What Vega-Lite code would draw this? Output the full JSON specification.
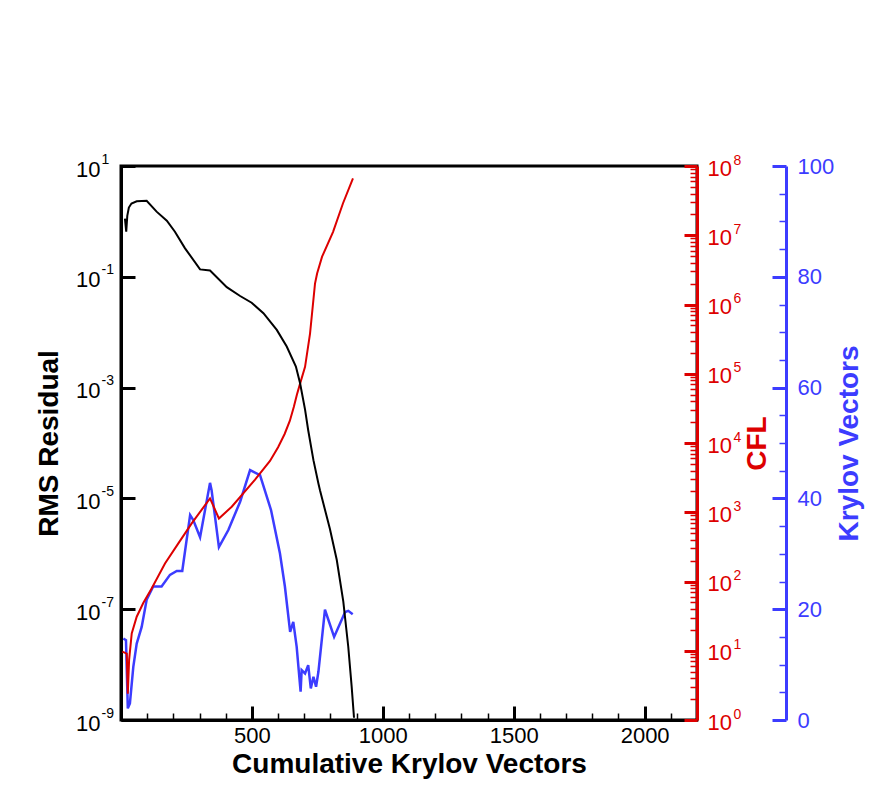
{
  "$schema": "https://vega.github.io/schema/vega-lite/v6.json",
  "width": 576,
  "height": 554,
  "autosize": {"type": "none"},
  "padding": {"left": 121, "top": 166, "right": 189, "bottom": 85},
  "background": "white",
  "config": {
    "view": {"stroke": "#000", "strokeWidth": 3},
    "axis": {
      "grid": false,
      "labelFont": "Liberation Sans",
      "titleFont": "Liberation Sans",
      "labelFontSize": 22,
      "titleFontSize": 28,
      "titleFontWeight": "bold",
      "labelColor": "#000",
      "titleColor": "#000",
      "domainColor": "#000",
      "domainWidth": 3,
      "labelOverlap": false,
      "labelFlush": false,
      "labelBound": false
    }
  },
  "datasets": {
    "rms": [
      {"x": 15, "v": 1.12}, {"x": 20, "v": 0.65}, {"x": 24, "v": 1.26}, {"x": 30, "v": 1.78},
      {"x": 40, "v": 2.1}, {"x": 60, "v": 2.3}, {"x": 98, "v": 2.35}, {"x": 136, "v": 1.5},
      {"x": 175, "v": 1.03}, {"x": 206, "v": 0.65}, {"x": 244, "v": 0.33}, {"x": 302, "v": 0.136},
      {"x": 340, "v": 0.13}, {"x": 404, "v": 0.065}, {"x": 455, "v": 0.045}, {"x": 499, "v": 0.034},
      {"x": 544, "v": 0.022}, {"x": 595, "v": 0.011}, {"x": 633, "v": 0.0055}, {"x": 668, "v": 0.0024},
      {"x": 684, "v": 0.0012}, {"x": 703, "v": 0.0004}, {"x": 715, "v": 0.00017}, {"x": 735, "v": 4.9e-5},
      {"x": 754, "v": 1.86e-5}, {"x": 760, "v": 1.4e-5}, {"x": 798, "v": 2.8e-6}, {"x": 824, "v": 7.8e-7},
      {"x": 849, "v": 1.38e-7}, {"x": 868, "v": 2.1e-8}, {"x": 881, "v": 4.0e-9}, {"x": 890, "v": 1.1e-9}
    ],
    "cfl": [
      {"x": 5, "v": 9.7}, {"x": 22, "v": 9.1}, {"x": 26, "v": 2.4}, {"x": 31, "v": 7.4},
      {"x": 41, "v": 17.8}, {"x": 60, "v": 31}, {"x": 85, "v": 49}, {"x": 117, "v": 79},
      {"x": 168, "v": 182}, {"x": 219, "v": 355}, {"x": 270, "v": 692}, {"x": 340, "v": 1585},
      {"x": 374, "v": 813}, {"x": 423, "v": 1202}, {"x": 512, "v": 2950}, {"x": 569, "v": 5500},
      {"x": 600, "v": 8700}, {"x": 625, "v": 13500}, {"x": 645, "v": 21000}, {"x": 660, "v": 33000},
      {"x": 672, "v": 50000}, {"x": 684, "v": 72000}, {"x": 703, "v": 126000}, {"x": 722, "v": 380000},
      {"x": 741, "v": 2000000}, {"x": 749, "v": 2800000}, {"x": 768, "v": 4900000}, {"x": 810, "v": 11200000},
      {"x": 848, "v": 29000000}, {"x": 886, "v": 66000000}
    ],
    "kry": [
      {"x": 9, "v": 14.7}, {"x": 19, "v": 14.4}, {"x": 26, "v": 2.1}, {"x": 34, "v": 3.0},
      {"x": 47, "v": 9.6}, {"x": 60, "v": 13.8}, {"x": 79, "v": 16.8}, {"x": 98, "v": 21.7},
      {"x": 123, "v": 24.1}, {"x": 155, "v": 24.1}, {"x": 187, "v": 26.2}, {"x": 213, "v": 26.9},
      {"x": 234, "v": 26.9}, {"x": 264, "v": 37.0}, {"x": 276, "v": 36.1}, {"x": 302, "v": 33.0},
      {"x": 340, "v": 42.8}, {"x": 346, "v": 41.5}, {"x": 374, "v": 31.2}, {"x": 410, "v": 34.3},
      {"x": 455, "v": 39.4}, {"x": 493, "v": 45.1}, {"x": 531, "v": 44.2}, {"x": 573, "v": 37.9},
      {"x": 607, "v": 30.1}, {"x": 626, "v": 24.1}, {"x": 646, "v": 15.9}, {"x": 658, "v": 17.7},
      {"x": 671, "v": 13.2}, {"x": 686, "v": 5.1}, {"x": 690, "v": 9.0}, {"x": 703, "v": 8.4},
      {"x": 715, "v": 9.9}, {"x": 725, "v": 5.7}, {"x": 735, "v": 7.8}, {"x": 745, "v": 6.0},
      {"x": 754, "v": 8.7}, {"x": 779, "v": 19.9}, {"x": 814, "v": 15.0}, {"x": 856, "v": 19.5},
      {"x": 868, "v": 19.7}, {"x": 885, "v": 19.1}
    ]
  },
  "layer": [
    {
      "data": {"name": "kry"},
      "mark": {"type": "line", "color": "#3c3cff", "strokeWidth": 2.5},
      "encoding": {
        "x": {"field": "x", "type": "quantitative", "scale": {"domain": [0, 2200], "nice": false, "zero": false}, "axis": null},
        "y": {"field": "v", "type": "quantitative", "scale": {"domain": [0, 100], "nice": false},
          "axis": {"orient": "right", "offset": 89, "values": [0, 20, 40, 60, 80, 100], "ticks": false,
            "labelPadding": 11, "labelAlign": "left", "labelBaseline": "middle", "labelColor": "#3c3cff",
            "domainColor": "#3c3cff", "title": "Krylov Vectors", "titleColor": "#3c3cff",
            "titleAngle": 270, "titleBaseline": "top", "titlePadding": 2}}
      }
    },
    {
      "data": {"name": "kry"},
      "mark": {"type": "line", "opacity": 0},
      "encoding": {
        "x": {"field": "x", "type": "quantitative", "scale": {"domain": [0, 2200], "nice": false, "zero": false},
          "axis": {"orient": "bottom", "values": [500, 1000, 1500, 2000], "labels": false, "domain": false,
            "tickSize": -14, "tickWidth": 3, "tickColor": "black", "tickOpacity": 1, "zindex": 2, "title": null}},
        "y": {"field": "v", "type": "quantitative", "scale": {"domain": [0, 100], "nice": false},
          "axis": {"orient": "right", "offset": 89, "values": [0, 20, 40, 60, 80, 100], "labels": false,
            "domain": false, "tickSize": -14, "tickWidth": 3, "tickColor": "#3c3cff", "title": null}}
      }
    },
    {
      "data": {"name": "kry"},
      "mark": {"type": "line", "opacity": 0},
      "encoding": {
        "x": {"field": "x", "type": "quantitative", "scale": {"domain": [0, 2200], "nice": false, "zero": false},
          "axis": {"orient": "bottom", "values": [100, 200, 300, 400, 600, 700, 800, 900, 1100, 1200, 1300, 1400, 1600, 1700, 1800, 1900, 2100],
            "labels": false, "domain": false, "tickSize": -7, "tickWidth": 1.5, "tickColor": "black", "tickOpacity": 1, "zindex": 2, "title": null}},
        "y": {"field": "v", "type": "quantitative", "scale": {"domain": [0, 100], "nice": false},
          "axis": {"orient": "right", "offset": 89, "values": [5, 10, 15, 25, 30, 35, 45, 50, 55, 65, 70, 75, 85, 90, 95],
            "labels": false, "domain": false, "tickSize": -7, "tickWidth": 1.5, "tickColor": "#3c3cff", "title": null}}
      }
    },
    {
      "data": {"name": "kry"},
      "mark": {"type": "line", "opacity": 0},
      "encoding": {
        "x": {"field": "x", "type": "quantitative", "scale": {"domain": [0, 2200], "nice": false, "zero": false}, "axis": null},
        "y": {"field": "v", "type": "quantitative", "scale": {"domain": [0, 100], "nice": false},
          "axis": {"orient": "left", "values": [0, 20, 40, 60, 80, 100], "labels": false,
            "domain": false, "tickSize": -14, "tickWidth": 3, "tickColor": "black", "tickOpacity": 1, "zindex": 2, "title": null}}
      }
    },
    {
      "data": {"name": "cfl"},
      "mark": {"type": "line", "color": "#dd0000", "strokeWidth": 2},
      "encoding": {
        "x": {"field": "x", "type": "quantitative", "scale": {"domain": [0, 2200], "nice": false, "zero": false},
          "axis": {"orient": "bottom", "values": [500, 1000, 1500, 2000], "format": "d", "ticks": false, "labelPadding": 5,
            "title": "Cumulative Krylov Vectors", "titlePadding": 4}},
        "y": {"field": "v", "type": "quantitative", "scale": {"type": "log", "domain": [1, 100000000], "nice": false},
          "axis": {"orient": "right", "values": [1, 10, 100, 1000, 10000, 100000, 1000000, 10000000, 100000000],
            "ticks": false, "labelExpr": "'10'", "labelPadding": 10, "labelAlign": "left", "labelBaseline": "middle",
            "labelOffset": 2, "labelColor": "#dd0000", "domainColor": "#dd0000", "title": "CFL", "titleColor": "#dd0000",
            "titleAngle": 270, "titleBaseline": "top", "titlePadding": 12}}
      }
    },
    {
      "data": {"name": "cfl"},
      "mark": {"type": "line", "opacity": 0},
      "encoding": {
        "x": {"field": "x", "type": "quantitative", "scale": {"domain": [0, 2200], "nice": false, "zero": false}, "axis": null},
        "y": {"field": "v", "type": "quantitative", "scale": {"type": "log", "domain": [1, 100000000], "nice": false},
          "axis": {"orient": "right", "values": [1, 10, 100, 1000, 10000, 100000, 1000000, 10000000, 100000000],
            "labels": false, "domain": false, "tickSize": -13, "tickWidth": 3, "tickColor": "#dd0000", "title": null}}
      }
    },
    {
      "data": {"name": "cfl"},
      "mark": {"type": "line", "opacity": 0},
      "encoding": {
        "x": {"field": "x", "type": "quantitative", "scale": {"domain": [0, 2200], "nice": false, "zero": false}, "axis": null},
        "y": {"field": "v", "type": "quantitative", "scale": {"type": "log", "domain": [1, 100000000], "nice": false},
          "axis": {"orient": "right",
            "values": [2, 3, 4, 5, 6, 7, 8, 9, 20, 30, 40, 50, 60, 70, 80, 90, 200, 300, 400, 500, 600, 700, 800, 900,
              2000, 3000, 4000, 5000, 6000, 7000, 8000, 9000, 20000, 30000, 40000, 50000, 60000, 70000, 80000, 90000,
              200000, 300000, 400000, 500000, 600000, 700000, 800000, 900000,
              2000000, 3000000, 4000000, 5000000, 6000000, 7000000, 8000000, 9000000,
              20000000, 30000000, 40000000, 50000000, 60000000, 70000000, 80000000, 90000000],
            "labels": false, "domain": false, "tickSize": -7, "tickWidth": 1.5, "tickColor": "#dd0000", "title": null}}
      }
    },
    {
      "data": {"name": "cfl"},
      "mark": {"type": "line", "opacity": 0},
      "encoding": {
        "x": {"field": "x", "type": "quantitative", "scale": {"domain": [0, 2200], "nice": false, "zero": false}, "axis": null},
        "y": {"field": "v", "type": "quantitative", "scale": {"type": "log", "domain": [1, 100000000], "nice": false},
          "axis": {"orient": "right", "values": [1, 10, 100, 1000, 10000, 100000, 1000000, 10000000, 100000000],
            "ticks": false, "domain": false, "labelExpr": "toString(round(log(datum.value)/LN10))",
            "labelFontSize": 14, "labelPadding": 36, "labelAlign": "left", "labelBaseline": "middle",
            "labelOffset": -6, "labelColor": "#dd0000", "title": null}}
      }
    },
    {
      "data": {"name": "rms"},
      "mark": {"type": "line", "color": "#000000", "strokeWidth": 2},
      "encoding": {
        "x": {"field": "x", "type": "quantitative", "scale": {"domain": [0, 2200], "nice": false, "zero": false}, "axis": null},
        "y": {"field": "v", "type": "quantitative", "scale": {"type": "log", "domain": [1e-9, 10], "nice": false},
          "axis": {"orient": "left", "values": [10, 0.1, 0.001, 1e-5, 1e-7, 1e-9], "ticks": false,
            "labelExpr": "'10'", "labelPadding": 21, "labelAlign": "right", "labelBaseline": "middle", "labelOffset": 3,
            "title": "RMS Residual", "titlePadding": 12}}
      }
    },
    {
      "data": {"name": "rms"},
      "mark": {"type": "line", "opacity": 0},
      "encoding": {
        "x": {"field": "x", "type": "quantitative", "scale": {"domain": [0, 2200], "nice": false, "zero": false}, "axis": null},
        "y": {"field": "v", "type": "quantitative", "scale": {"type": "log", "domain": [1e-9, 10], "nice": false},
          "axis": {"orient": "left", "values": [10, 0.1, 0.001, 1e-5, 1e-7, 1e-9], "ticks": false, "domain": false,
            "labelExpr": "toString(round(log(datum.value)/LN10))", "labelFontSize": 14, "labelPadding": 20,
            "labelAlign": "left", "labelBaseline": "middle", "labelOffset": -7, "title": null}}
      }
    }
  ],
  "resolve": {"scale": {"y": "independent"}, "axis": {"x": "independent", "y": "independent"}}
}
